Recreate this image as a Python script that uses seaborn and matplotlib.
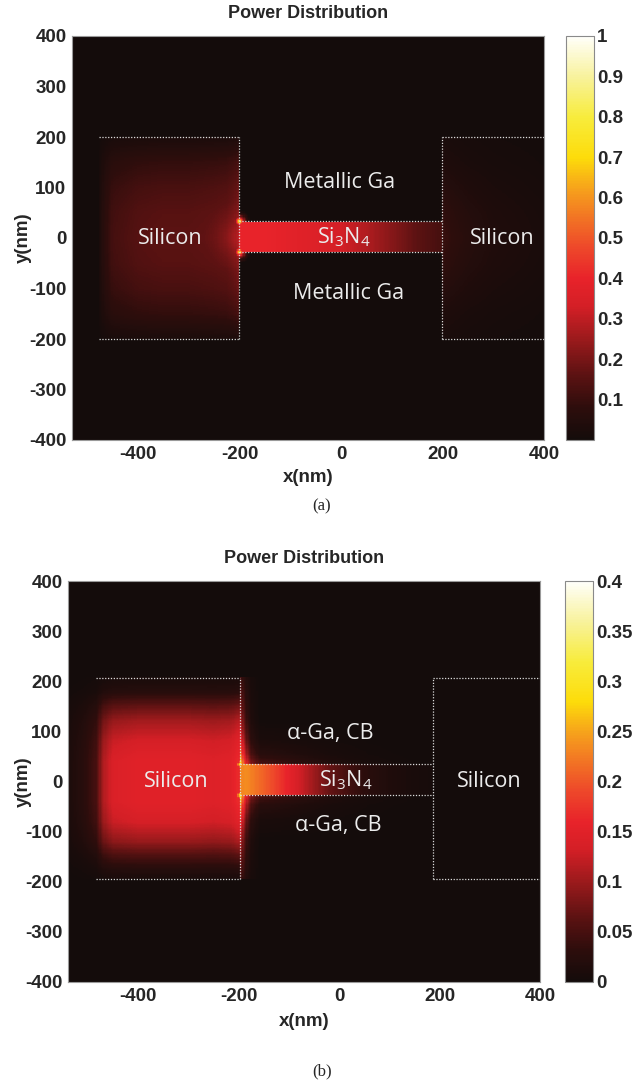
import numpy as np
import matplotlib
matplotlib.use('Agg')
import matplotlib.pyplot as plt
import seaborn as sns
from matplotlib.colors import LinearSegmentedColormap

sns.set_style('white')
plt.rcParams['font.family'] = ['Liberation Sans', 'DejaVu Sans']
plt.rcParams['mathtext.default'] = 'regular'

# grid of the simulation window (nm)
y_top, y_bottom = 400, -400
cell = 2.5

# ---- panel (a): metallic Ga cladding, power ----
a_xlim = (-530, 400)
a_left_x = [-477, -466, -450, -400, -350, -300, -250, -225, -210, -200]
a_left_p = [0.02, 0.07, 0.12, 0.15, 0.16, 0.16, 0.17, 0.18, 0.20, 0.23]
a_left_y = [-200, -180, -150, -100, -50, 0, 50, 100, 150, 180, 200]
a_left_rel = [0.15, 0.3, 0.55, 0.8, 0.95, 1.0, 0.95, 0.8, 0.55, 0.3, 0.15]
a_sin_x = [-200, -150, -100, -50, 0, 50, 100, 150, 200]
a_sin_p = [0.40, 0.40, 0.38, 0.36, 0.33, 0.28, 0.22, 0.16, 0.12]
a_right_x = [200, 220, 250, 300, 350, 400]
a_right_p = [0.10, 0.08, 0.06, 0.04, 0.03, 0.02]
a_right_y = [-200, -150, -100, -50, 0, 50, 100, 150, 200]
a_right_rel = [0.2, 0.35, 0.6, 0.85, 1.0, 0.85, 0.6, 0.35, 0.2]
a_glow_r = [0, 15, 30, 50, 70]
a_glow_p = [0.07, 0.06, 0.035, 0.012, 0.0]
a_hot_peak = 0.75
a_cbar_ticks = [0.1, 0.2, 0.3, 0.4, 0.5, 0.6, 0.7, 0.8, 0.9, 1]

# ---- panel (b): alpha-Ga (CB) cladding ----
b_xlim = (-540, 400)
b_left_x = [-540, -510, -484, -470, -450, -400, -300, -250, -215, -197]
b_left_p = [0.01, 0.025, 0.05, 0.11, 0.14, 0.15, 0.15, 0.145, 0.15, 0.17]
b_left_y = [-195, -175, -150, -120, -80, -40, 0, 40, 80, 120, 150, 180, 207]
b_left_rel = [0.05, 0.15, 0.35, 0.65, 0.9, 1, 1, 1, 0.9, 0.7, 0.45, 0.15, 0.05]
b_edge_y = [-195, -150, -100, -60, -27, 34, 60, 100, 150, 207]
b_edge_p = [0.05, 0.09, 0.14, 0.20, 0.25, 0.25, 0.20, 0.14, 0.09, 0.05]
b_edge_d = [0, 5, 12, 22, 40]
b_edge_rel = [1, 0.7, 0.35, 0.12, 0]
b_sin_x = [-197, -185, -160, -130, -100, -60, -20, 20, 60, 100, 140, 186]
b_sin_p = [0.23, 0.235, 0.215, 0.19, 0.155, 0.11, 0.07, 0.045, 0.025, 0.015, 0.008, 0.004]
b_tail_d = [0, 20, 50, 90]
b_tail_rel = [0.25, 0.12, 0.04, 0]
b_hot_peak = 0.33
b_cbar_ticks = [0, 0.05, 0.1, 0.15, 0.2, 0.25, 0.3, 0.35, 0.4]

# corner hot spot shape
hot_r = [0, 4, 8, 14, 22]
hot_rel = [1.0, 0.7, 0.35, 0.12, 0.0]

xticks = [-400, -200, 0, 200, 400]
yticks = [400, 300, 200, 100, 0, -100, -200, -300, -400]

# colormap sampled from the colour bar
cmap = LinearSegmentedColormap.from_list('power', [
    (0.00, '#140c0b'), (0.08, '#2e0d0c'), (0.16, '#5c1212'), (0.25, '#9c1a1c'),
    (0.33, '#d41f26'), (0.40, '#e8232a'), (0.48, '#ee4a2a'), (0.55, '#f27424'),
    (0.62, '#f6a01c'), (0.70, '#fddc0a'), (0.80, '#f8ec3c'), (0.90, '#f8f29c'),
    (1.00, '#fffffa')])


def grid(xlim):
    xc = np.arange(xlim[0] + cell / 2, xlim[1], cell)
    yc = np.arange(y_top - cell / 2, y_bottom, -cell)
    return np.meshgrid(xc, yc)


def add_hot(F, X, Y, spots, peak):
    for hx, hy in spots:
        R = np.hypot(X - hx, Y - hy)
        F[:] = np.maximum(F, peak * np.interp(R, hot_r, hot_rel))


# build panel (a)
Xa, Ya = grid(a_xlim)
Fa = np.zeros_like(Xa)
m = (Xa >= -477) & (Xa <= -200) & (np.abs(Ya) <= 200)
Fa[m] = np.interp(Xa[m], a_left_x, a_left_p) * np.interp(Ya[m], a_left_y, a_left_rel)
Fa[m] += np.interp(np.hypot(Xa[m] + 200, Ya[m] - 2), a_glow_r, a_glow_p)
m = (Xa > -200) & (Xa < 200) & (Ya >= -28) & (Ya <= 33)
Fa[m] = np.interp(Xa[m], a_sin_x, a_sin_p)
m = (Xa >= 200) & (np.abs(Ya) <= 200)
Fa[m] = np.interp(Xa[m], a_right_x, a_right_p) * np.interp(Ya[m], a_right_y, a_right_rel)
add_hot(Fa, Xa, Ya, [(-200, 33), (-200, -28)], a_hot_peak)

# build panel (b)
Xb, Yb = grid(b_xlim)
Fb = np.zeros_like(Xb)
m = (Xb <= -197) & (Yb >= -195) & (Yb <= 207)
Fb[m] = np.interp(Xb[m], b_left_x, b_left_p) * np.interp(Yb[m], b_left_y, b_left_rel)
m = (Xb > -197) & (Xb < 186) & (Yb >= -27) & (Yb <= 34)
Fb[m] = np.interp(Xb[m], b_sin_x, b_sin_p)
# evanescent tails into the alpha-Ga above / below the core
m = (Xb > -197) & (Xb < 186) & ((Yb > 34) | (Yb < -27))
d = np.where(Yb > 34, Yb - 34, -27 - Yb)
Fb[m] += np.interp(Xb[m], b_sin_x, b_sin_p) * np.interp(d[m], b_tail_d, b_tail_rel)
# bright line on the Ga side of the silicon facet
m = (Xb > -197) & (Yb >= -195) & (Yb <= 207) & ((Yb > 34) | (Yb < -27))
Fb[m] += np.interp(Yb[m], b_edge_y, b_edge_p) * np.interp(Xb[m] + 197, b_edge_d, b_edge_rel)
add_hot(Fb, Xb, Yb, [(-197, 34), (-197, -27)], b_hot_peak)

fig = plt.figure(figsize=(6.42, 10.9), dpi=100)
W, H = 642, 1090
outline = dict(color='#dcdcdc', lw=0.9, ls=(0, (1, 1.3)))


def draw(F, xlim, vmax, ticks, ax_px, cax_px, boxes, labels, title_y, xlab_y, cap, cap_y):
    ax = fig.add_axes([ax_px[0] / W, 1 - ax_px[3] / H, (ax_px[2] - ax_px[0]) / W,
                       (ax_px[3] - ax_px[1]) / H])
    cax = fig.add_axes([cax_px[0] / W, 1 - ax_px[3] / H, (cax_px[1] - cax_px[0]) / W,
                        (ax_px[3] - ax_px[1]) / H])
    sns.heatmap(F, ax=ax, cmap=cmap, vmin=0, vmax=vmax, cbar_ax=cax,
                xticklabels=False, yticklabels=False, rasterized=True,
                cbar_kws={'ticks': ticks})
    ix = lambda v: (v - xlim[0]) / cell
    iy = lambda v: (y_top - v) / cell
    for (x0, x1, y0, y1) in boxes:
        ax.plot([ix(x0), ix(x1)], [iy(y0), iy(y1)], **outline)
    ax.set_xticks([ix(v) for v in xticks])
    ax.set_xticklabels([str(v) for v in xticks], fontsize=13.5, fontweight='bold', rotation=0)
    ax.set_yticks([iy(v) for v in yticks])
    ax.set_yticklabels([str(v) for v in yticks], fontsize=13.5, fontweight='bold', rotation=0)
    ax.tick_params(direction='in', length=3, color='#333333', pad=4)
    for s in ax.spines.values():
        s.set_visible(True)
        s.set_color('#9a9a9a')
        s.set_linewidth(0.8)
    for txt, x, y in labels:
        ax.text(ix(x), iy(y), txt, color='#ececec', fontsize=15.5,
                family=['Open Sans', 'DejaVu Sans'], ha='center', va='center')
    cb = ax.collections[0].colorbar
    cb.outline.set_edgecolor('#8a8a8a')
    cb.outline.set_linewidth(0.8)
    cax.tick_params(direction='in', length=3, width=0.6, left=True, right=True,
                    color='#444444', labelsize=13.5, pad=2)
    cax.set_yticklabels([f'{t:g}' for t in ticks], fontweight='bold')
    cx = (ax_px[0] + ax_px[2]) / 2 / W
    fig.text(cx, 1 - title_y / H, 'Power Distribution', ha='center', va='center',
             fontsize=13, fontweight='bold')
    fig.text(cx, 1 - xlab_y / H, 'x(nm)', ha='center', va='center',
             fontsize=13.5, fontweight='bold')
    fig.text(23 / W, 1 - (ax_px[1] + ax_px[3]) / 2 / H, 'y(nm)', ha='center', va='center',
             rotation=90, fontsize=13.5, fontweight='bold')
    fig.text(322 / W, 1 - cap_y / H, cap, ha='center', va='center', fontsize=12,
             family=['Liberation Serif', 'DejaVu Serif'])


draw(Fa, a_xlim, 1.0, a_cbar_ticks, (72, 36, 544, 440), (566, 594),
     [(-477, -200, 200, 200), (-477, -200, -200, -200), (-200, -200, -200, 200),
      (-200, 200, 33, 33), (-200, 200, -28, -28),
      (200, 400, 200, 200), (200, 400, -200, -200), (200, 200, -200, 200)],
     [('Silicon', -337, 0), ('Silicon', 317, 0), ('Metallic Ga', -2, 109),
      ('Metallic Ga', 15, -109), (r'Si$_3$N$_4$', 6, 2)],
     14, 477, '(a)', 506)

draw(Fb, b_xlim, 0.4, b_cbar_ticks, (68, 581, 540, 982), (565, 593),
     [(-484, -197, 207, 207), (-484, -197, -195, -195), (-197, -197, -195, 207),
      (-197, 186, 34, 34), (-197, 186, -27, -27),
      (186, 400, 207, 207), (186, 400, -195, -195), (186, 186, -195, 207)],
     [('Silicon', -325, 0), ('Silicon', 298, 0), ('α-Ga, CB', -17, 96),
      ('α-Ga, CB', -1, -88), (r'Si$_3$N$_4$', 13, 2)],
     559, 1022, '(b)', 1071)

fig.savefig('out.png', dpi=100)
